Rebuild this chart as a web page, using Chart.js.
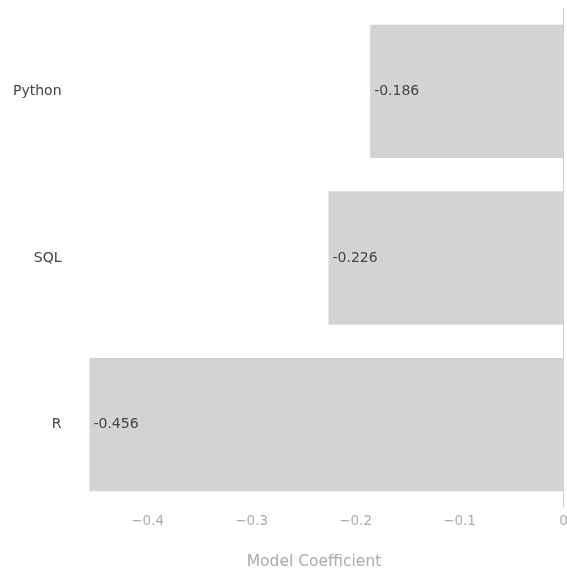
<!DOCTYPE html>
<html>
<head>
<meta charset="utf-8">
<script src="https://cdn.jsdelivr.net/npm/chart.js@4"></script>
<style>
  html, body { margin: 0; padding: 0; background: #fff; }
  #wrap { width: 567px; height: 573px; }
</style>
</head>
<body>
<div id="wrap"><canvas id="chart" width="567" height="573"></canvas></div>
<script>
const languages = ["Python", "SQL", "R"];
const coefficients = [-0.186, -0.226, -0.456];
const xTicks = [-0.4, -0.3, -0.2, -0.1, 0];
const xRange = [-0.48, 0];

const FONT = "'DejaVu Sans', Verdana, sans-serif";

// draws the value text just inside the left end of each bar
const barLabels = {
  id: "barLabels",
  afterDatasetsDraw(chart) {
    const ctx = chart.ctx;
    const meta = chart.getDatasetMeta(0);
    ctx.save();
    ctx.font = "14px " + FONT;
    ctx.fillStyle = "#444";
    ctx.textAlign = "left";
    ctx.textBaseline = "middle";
    meta.data.forEach((bar, i) => {
      ctx.fillText(String(coefficients[i]), bar.x + 4, bar.y);
    });
    ctx.restore();
  }
};

new Chart(document.getElementById("chart"), {
  type: "bar",
  data: {
    labels: languages,
    datasets: [{
      label: "Model Coefficient",
      data: coefficients,
      backgroundColor: "#d3d3d3",
      borderWidth: 0,
      barPercentage: 0.8,
      categoryPercentage: 1
    }]
  },
  options: {
    indexAxis: "y",
    responsive: false,
    animation: false,
    layout: { padding: { top: 8, right: 3.5, left: 0, bottom: 0 } },
    plugins: {
      legend: { display: false },
      tooltip: { enabled: false }
    },
    scales: {
      x: {
        min: xRange[0],
        max: xRange[1],
        afterBuildTicks: (scale) => {
          scale.ticks = xTicks.map(v => ({ value: v }));
        },
        afterFit: (scale) => {
          scale.height = 65;
          scale.paddingLeft = 0;
          scale.paddingRight = 0;
        },
        border: { display: false },
        grid: {
          drawTicks: false,
          lineWidth: 1,
          color: (c) => (c.tick && c.tick.value === 0 ? "#cfcfcf" : "rgba(0,0,0,0)")
        },
        ticks: {
          padding: 5,
          color: "#aaa",
          font: { family: FONT, size: 13.5 },
          maxRotation: 0,
          callback: (v) => (v === 0 ? "0" : "\u2212" + Math.abs(v).toFixed(1))
        },
        title: {
          display: true,
          text: "Model Coefficient",
          color: "#aaa",
          font: { family: FONT, size: 15.5 },
          padding: { top: 0, bottom: 2 }
        }
      },
      y: {
        afterFit: (scale) => {
          scale.width = 64.5;
          scale.paddingTop = 0;
          scale.paddingBottom = 0;
        },
        border: { display: false },
        grid: { display: false, drawTicks: false },
        ticks: {
          padding: 3,
          color: "#444",
          font: { family: FONT, size: 14 }
        }
      }
    }
  },
  plugins: [barLabels]
});
</script>
</body>
</html>
